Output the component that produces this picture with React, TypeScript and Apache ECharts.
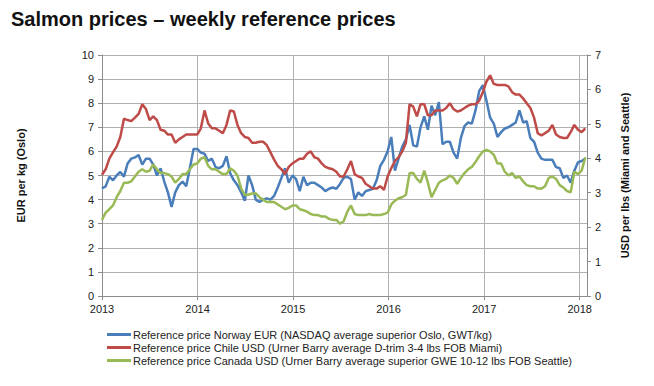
import React, { useEffect, useRef } from "react";
import * as echarts from "echarts";

// Biweekly samples starting at the first week of 2013
const START_YEAR = 2013;
const STEP_DAYS = 14;
const X_MAX = 2018.077;
const yearTicks = [2013, 2014, 2015, 2016, 2017, 2018];

const seriesNames = [
  "Reference price Norway EUR (NASDAQ average superior Oslo, GWT/kg)",
  "Reference price Chile USD (Urner Barry average D-trim 3-4 lbs FOB Miami)",
  "Reference price Canada USD (Urner Barry average superior GWE 10-12 lbs FOB Seattle)",
];

// EUR per kg (left axis)
const norwayEUR = [
  4.47, 4.55, 4.95, 4.8, 5.0, 5.15, 4.95, 5.5, 5.7, 5.75, 5.85, 5.45, 5.7, 5.7, 5.45, 5.0, 5.3, 4.75, 4.3, 3.7, 4.3, 4.6, 4.75, 4.55, 5.3, 6.1, 6.1,
  5.95, 5.9, 5.6, 5.7, 5.35, 5.3, 5.4, 5.8, 5.1, 4.8, 4.6, 4.3, 3.95, 5.0, 4.6, 4.0, 3.9,
  4.0, 4.05, 4.0, 4.15, 4.5, 4.9, 5.3, 4.7, 5.0,
  4.85, 4.35, 4.95, 4.6, 4.7, 4.7, 4.6, 4.5, 4.35, 4.45, 4.5, 4.45, 4.65, 4.9, 4.95, 4.85, 4.0, 4.3, 4.15, 4.35, 4.4, 4.45, 4.8, 5.4, 5.65, 6.0,
  6.6, 5.2, 5.7, 6.2, 6.5, 7.1, 6.25, 6.2, 7.0, 7.45, 6.9, 7.9, 7.5, 8.05, 6.3, 6.4, 6.4, 5.95, 5.7, 6.55, 7.05, 7.2, 7.15, 7.7, 8.5, 8.75,
  8.1, 7.4, 7.15, 6.6, 6.8, 6.95, 7.0, 7.1, 7.2, 7.7, 7.2, 7.25, 6.55, 6.4, 5.95, 5.7, 5.65, 5.65, 5.65, 5.35, 5.3, 4.9, 5.0, 4.7, 5.2, 5.55, 5.6, 5.7,
];

// USD per lbs (right axis)
const chileUSD = [
  3.52, 3.68, 3.99, 4.17, 4.34, 4.62, 5.15, 5.11, 5.08, 5.18, 5.29, 5.57, 5.43, 5.11, 5.22, 5.11, 4.83, 4.8, 4.69, 4.69, 4.45, 4.55, 4.62, 4.69, 4.69, 4.69, 4.69,
  4.87, 5.39, 5.01, 4.87, 4.87, 4.8, 4.73, 4.97, 5.39, 5.36, 4.97, 4.73, 4.62, 4.59, 4.45, 4.45, 4.48,
  4.48, 4.38, 4.17, 3.96, 3.78, 3.68, 3.54, 3.75, 3.85,
  3.92, 3.99, 3.99, 4.13, 4.2, 4.03, 3.99, 3.85, 3.75, 3.71, 3.68, 3.61, 3.47, 3.47, 3.68, 3.92, 3.54, 3.47, 3.43, 3.26, 3.19, 3.12, 3.12, 3.19, 3.08, 3.47,
  3.71, 3.92, 4.03, 4.2, 4.45, 5.57, 5.5, 5.22, 5.57, 5.57, 5.25, 5.25, 5.39, 5.39, 5.39, 5.46, 5.6, 5.43, 5.36, 5.39, 5.46, 5.53, 5.57, 5.57, 5.67, 5.92,
  6.23, 6.41, 6.16, 6.13, 6.13, 6.13, 6.09, 5.92, 5.85, 5.85, 5.74, 5.6, 5.46, 5.18, 4.73, 4.66, 4.73, 4.8, 4.97, 4.69, 4.62, 4.59, 4.59, 4.76, 4.97, 4.83, 4.76, 4.87,
];

const canadaUSD = [
  2.21, 2.42, 2.52, 2.63, 2.87, 3.05, 3.29, 3.29, 3.33, 3.47, 3.61, 3.68, 3.61, 3.64, 3.82, 3.68, 3.57, 3.57, 3.54, 3.47, 3.29, 3.4, 3.54, 3.54, 3.68, 3.82, 3.85,
  3.99, 4.03, 3.78, 3.68, 3.68, 3.61, 3.54, 3.54, 3.71, 3.64, 3.5, 3.12, 2.94, 2.94, 2.98, 2.98, 2.87,
  2.8, 2.73, 2.73, 2.73, 2.66, 2.59, 2.52, 2.56, 2.63,
  2.63, 2.52, 2.49, 2.45, 2.38, 2.35, 2.35, 2.31, 2.31, 2.24, 2.21, 2.21, 2.1, 2.17, 2.45, 2.63, 2.38, 2.35, 2.35, 2.35, 2.38, 2.35, 2.35, 2.35, 2.38, 2.42,
  2.66, 2.77, 2.84, 2.87, 2.94, 3.57, 3.57, 3.4, 3.29, 3.64, 3.29, 2.87, 3.08, 3.29, 3.36, 3.4, 3.5, 3.43, 3.26, 3.43, 3.57, 3.68, 3.75, 3.89, 4.06, 4.2,
  4.24, 4.2, 4.1, 3.85, 3.85, 3.61, 3.5, 3.57, 3.43, 3.47, 3.33, 3.22, 3.19, 3.19, 3.12, 3.12, 3.19, 3.43, 3.47, 3.4, 3.22, 3.15, 3.05, 3.01, 3.61, 3.54, 3.64, 4.03,
];

const colors = ["#4a7ebb", "#be4b48", "#98b954"];
const FONT = "'Liberation Sans', Arial, sans-serif";

function toPairs(values: number[]) {
  return values.map((v, i) => [START_YEAR + (i * STEP_DAYS) / 365.25, v]);
}

export default function App() {
  const ref = useRef<HTMLDivElement>(null);
  useEffect(() => {
    if (!ref.current) return;
    const chart = echarts.init(ref.current, undefined, { renderer: "svg" });
    const axisLineStyle = { color: "#8c8c8c", width: 1 };
    chart.setOption({
      animation: false,
      color: colors,
      textStyle: { fontFamily: FONT },
      title: {
        text: "Salmon prices \u2013 weekly reference prices",
        left: 6,
        top: 4,
        textStyle: { fontSize: 20, fontWeight: "bold", color: "#111", fontFamily: FONT },
      },
      grid: { left: 102, right: 67, top: 55, bottom: 90, containLabel: false },
      legend: {
        orient: "vertical",
        left: 102,
        top: 324,
        itemWidth: 24,
        itemHeight: 3,
        itemGap: 2,
        icon: "rect",
        textStyle: { fontSize: 11, color: "#222", fontFamily: FONT, padding: [0, 0, 0, -3] },
        data: seriesNames,
      },
      xAxis: {
        type: "value",
        min: START_YEAR,
        max: X_MAX,
        interval: 1,
        axisLine: { show: true, lineStyle: axisLineStyle },
        axisTick: { show: true, length: 4, lineStyle: axisLineStyle },
        axisLabel: {
          margin: 7,
          fontSize: 11,
          color: "#222",
          fontFamily: FONT,
          showMaxLabel: false,
          formatter: (v: number) => (yearTicks.includes(Math.round(v * 1000) / 1000) ? String(Math.round(v)) : ""),
        },
        splitLine: { show: true, lineStyle: { color: "#b0b0b0", width: 1 } },
      },
      yAxis: [
        {
          type: "value",
          min: 0,
          max: 10,
          interval: 1,
          name: "EUR per kg (Oslo)",
          nameLocation: "middle",
          nameGap: 76,
          nameTextStyle: { fontSize: 11, fontWeight: "bold", color: "#111", fontFamily: FONT },
          axisLine: { show: true, lineStyle: axisLineStyle },
          axisTick: { show: true, length: 4, lineStyle: axisLineStyle },
          axisLabel: { margin: 8, fontSize: 11, color: "#222", fontFamily: FONT },
          splitLine: { show: true, lineStyle: { color: "#b0b0b0", width: 1 } },
        },
        {
          type: "value",
          min: 0,
          max: 7,
          interval: 1,
          position: "right",
          name: "USD per lbs (Miami and Seattle)",
          nameLocation: "middle",
          nameGap: 32,
          nameTextStyle: { fontSize: 11, fontWeight: "bold", color: "#111", fontFamily: FONT },
          axisLine: { show: true, lineStyle: axisLineStyle },
          axisTick: { show: true, length: 4, lineStyle: axisLineStyle },
          axisLabel: { margin: 8, fontSize: 11, color: "#222", fontFamily: FONT },
          splitLine: { show: false },
        },
      ],
      series: [
        { name: seriesNames[0], type: "line", yAxisIndex: 0, data: toPairs(norwayEUR), showSymbol: false, lineStyle: { width: 2.5 } },
        { name: seriesNames[1], type: "line", yAxisIndex: 1, data: toPairs(chileUSD), showSymbol: false, lineStyle: { width: 2.5 } },
        { name: seriesNames[2], type: "line", yAxisIndex: 1, data: toPairs(canadaUSD), showSymbol: false, lineStyle: { width: 2.5 } },
      ],
    });
    return () => chart.dispose();
  }, []);
  return (
    <div
      ref={ref}
      style={{ position: "fixed", left: 0, top: 0, width: 654, height: 386, background: "#fff" }}
    />
  );
}
